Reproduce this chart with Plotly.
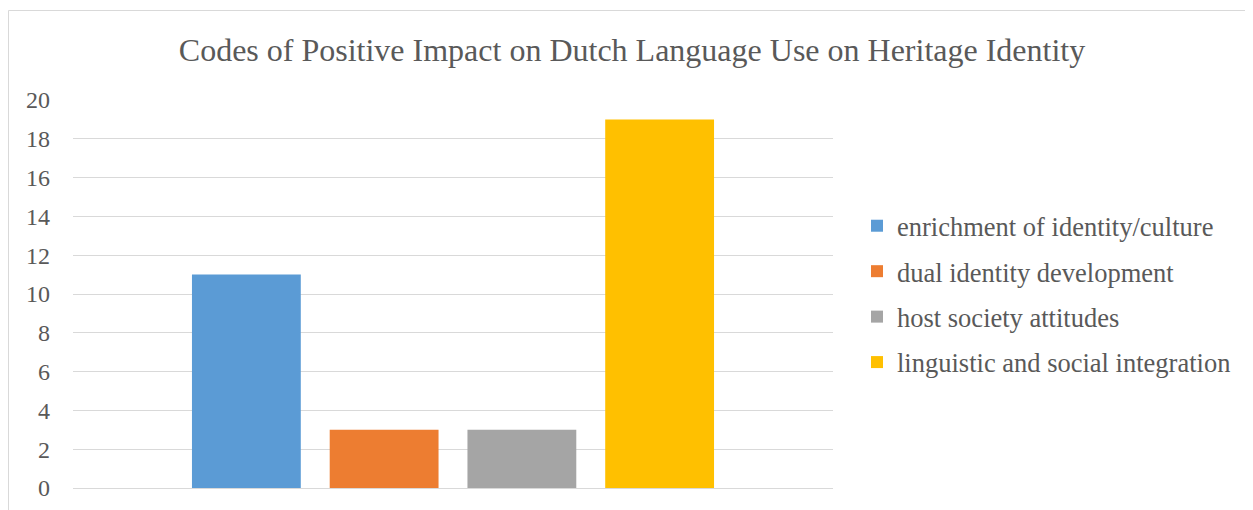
import plotly.graph_objects as go

categories = [""]
series_names = [
    "enrichment of identity/culture",
    "dual identity development",
    "host society attitudes",
    "linguistic and social integration",
]
series_values = [[11], [3], [3], [19]]
colors = ["#5B9BD5", "#ED7D31", "#A5A5A5", "#FFC000"]
y_ticks = [0, 2, 4, 6, 8, 10, 12, 14, 16, 18, 20]

FONT = "Liberation Serif, Times New Roman, serif"
TXT = "#595959"

fig = go.Figure()
for i, (name, vals, col) in enumerate(zip(series_names, series_values, colors)):
    fig.add_trace(go.Bar(x=categories, y=vals, name=name, marker_color=col,
                         marker_line_width=0, legendgroup=f"g{i}"))

OFF = 8  # page body margin
W, H = 1253 - OFF, 510 - OFF
L, R, T, B = 73 - OFF, 1253 - 833, 100 - OFF, 510 - 488
pw, ph = W - L - R, H - T - B

def px_x(p):
    return (p - OFF - L) / pw

def px_y(p):
    return (H - B - (p - OFF)) / ph

fig.update_layout(
    width=W, height=H,
    margin=dict(l=L, r=R, t=T, b=B, autoexpand=False),
    paper_bgcolor="white", plot_bgcolor="white",
    font=dict(family=FONT, color=TXT, size=24),
    title=dict(text="Codes of Positive Impact on Dutch Language Use on Heritage Identity",
               x=(632 - OFF) / W, xanchor="center", y=1 - (50 - OFF) / H, yanchor="middle",
               font=dict(size=32, color=TXT, family=FONT)),
    barmode="group", bargap=0.275, bargroupgap=0.21,
    showlegend=True,
    legend=dict(x=px_x(857), xanchor="left", y=px_y(202), yanchor="top",
                traceorder="grouped", tracegroupgap=8,
                font=dict(size=26.5, color=TXT, family=FONT),
                bgcolor="rgba(0,0,0,0)"),
    xaxis=dict(showticklabels=False, showgrid=False, zeroline=False, showline=False),
    yaxis=dict(range=[0, 20], tickvals=y_ticks, showgrid=True, gridcolor="#D9D9D9",
               gridwidth=1, zeroline=True, zerolinecolor="#D9D9D9", zerolinewidth=1,
               showline=False, ticks="", ticklabelstandoff=22,
               tickfont=dict(size=24, color=TXT, family=FONT)),
    shapes=[dict(type="rect", xref="paper", yref="paper",
                 x0=px_x(8.5), x1=px_x(1270), y0=px_y(530), y1=px_y(10.5),
                 line=dict(color="#D9D9D9", width=1), fillcolor="rgba(0,0,0,0)",
                 layer="below")],
)

fig.write_html("out.html")
